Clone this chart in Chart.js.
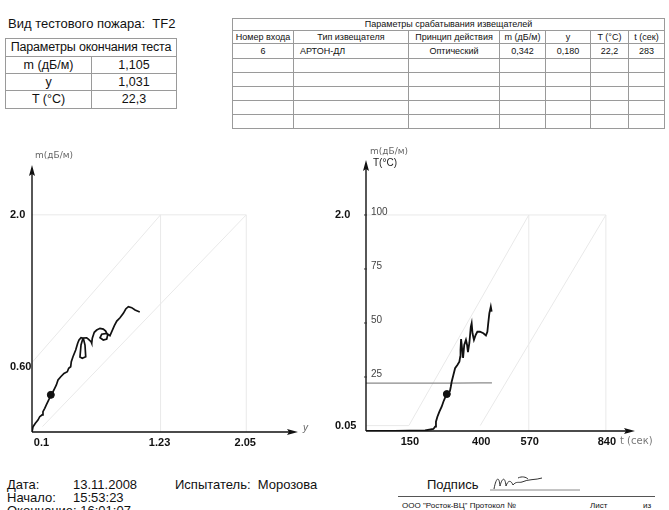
<!DOCTYPE html>
<html>
<head>
<meta charset="utf-8">
<script src="https://cdn.jsdelivr.net/npm/chart.js@4"></script>
<style>
body{margin:0;background:#fff;font-family:"Liberation Sans",Arial,sans-serif;color:#111;}
#page{position:relative;width:669px;height:510px;overflow:hidden;background:#fff;}
.t{position:absolute;white-space:nowrap;line-height:1;}
table{position:absolute;border-collapse:collapse;table-layout:fixed;}
td{border:1px solid #9a9a9a;padding:0;text-align:center;line-height:1;overflow:hidden;white-space:nowrap;}
canvas{position:absolute;}
</style>
</head>
<body>
<div id="page">

<div class="t" style="left:8px;top:17px;font-size:13px">Вид тестового пожара:&nbsp; TF2</div>
<table style="left:5px;top:38px;width:171px;font-size:12.5px">
  <colgroup><col style="width:86px"><col style="width:85px"></colgroup>
  <tr style="height:18px"><td colspan="2" style="letter-spacing:-0.2px">Параметры окончания теста</td></tr>
  <tr style="height:17px"><td>m (дБ/м)</td><td>1,105</td></tr>
  <tr style="height:17px"><td>y</td><td>1,031</td></tr>
  <tr style="height:18px"><td>T (°C)</td><td>22,3</td></tr>
</table>

<table style="left:232px;top:18px;width:432px;font-size:9px">
  <colgroup><col style="width:61px"><col style="width:115px"><col style="width:91px"><col style="width:46px"><col style="width:45px"><col style="width:38px"><col style="width:36px"></colgroup>
  <tr style="height:12px"><td colspan="7">Параметры срабатывания извещателей</td></tr>
  <tr style="height:13px"><td>Номер входа</td><td>Тип извещателя</td><td>Принцип действия</td><td>m (дБ/м)</td><td>y</td><td>T (°C)</td><td>t (сек)</td></tr>
  <tr style="height:15px"><td>6</td><td style="text-align:left;padding-left:6px">АРТОН-ДЛ</td><td>Оптический</td><td>0,342</td><td>0,180</td><td>22,2</td><td>283</td></tr>
  <tr style="height:14px"><td></td><td></td><td></td><td></td><td></td><td></td><td></td></tr>
  <tr style="height:14px"><td></td><td></td><td></td><td></td><td></td><td></td><td></td></tr>
  <tr style="height:14px"><td></td><td></td><td></td><td></td><td></td><td></td><td></td></tr>
  <tr style="height:14px"><td></td><td></td><td></td><td></td><td></td><td></td><td></td></tr>
  <tr style="height:14px"><td></td><td></td><td></td><td></td><td></td><td></td><td></td></tr>
</table>

<canvas id="leftChart" width="330" height="320" style="left:0;top:140px"></canvas>
<canvas id="rightChart" width="339" height="320" style="left:330px;top:140px"></canvas>

<div class="t" style="left:7px;top:478px;font-size:13px">Дата:</div>
<div class="t" style="left:73px;top:478px;font-size:13px">13.11.2008</div>
<div class="t" style="left:175px;top:478px;font-size:13px">Испытатель:&nbsp; Морозова</div>
<div class="t" style="left:7px;top:491px;font-size:13px">Начало:</div>
<div class="t" style="left:73px;top:491px;font-size:13px">15:53:23</div>
<div class="t" style="left:7px;top:504px;font-size:13px">Окончание: 16:01:07</div>

<div class="t" style="left:427px;top:478px;font-size:13px">Подпись</div>
<svg style="position:absolute;left:488px;top:472px" width="100" height="22">
  <path d="M6 17 C8 6,11 3,12 14 C14 6,17 4,18 14 C20 8,23 8,25 13 C28 9,31 11,34 10 C40 7,48 8,54 6 M30 6 C34 4,38 5,40 7" fill="none" stroke="#333" stroke-width="1"/>
  <line x1="2" y1="18" x2="92" y2="18" stroke="#888" stroke-width="1"/>
</svg>
<div style="position:absolute;left:398px;top:496px;width:257px;height:1px;background:#555"></div>
<div class="t" style="left:402px;top:502px;font-size:8px">ООО "Росток-ВЦ" Протокол №</div>
<div class="t" style="left:590px;top:502px;font-size:8px">Лист</div>
<div class="t" style="left:643px;top:502px;font-size:8px">из</div>

</div>
<script>
// ---- left chart: m (дБ/м) against y ----
var leftY = [0.0, 0.010, 0.032, 0.057, 0.074, 0.096, 0.105, 0.122, 0.137, 0.160, 0.180, 0.201, 0.217, 0.233, 0.249, 0.275,
    0.306, 0.338, 0.351, 0.370, 0.376, 0.392, 0.418, 0.437, 0.450, 0.469, 0.491, 0.507, 0.514, 0.481, 0.459, 0.469, 0.488,
    0.523, 0.539, 0.565, 0.571, 0.577, 0.596, 0.619, 0.651, 0.682, 0.705, 0.724, 0.715, 0.682, 0.651, 0.667, 0.715, 0.746,
    0.763, 0.788, 0.811, 0.842, 0.874, 0.897, 0.922, 0.954, 0.986, 1.031];
var leftM = [0.0, 0.049, 0.080, 0.110, 0.141, 0.157, 0.187, 0.218, 0.249, 0.295, 0.342, 0.371, 0.402, 0.433, 0.479, 0.509,
    0.540, 0.555, 0.587, 0.601, 0.647, 0.693, 0.755, 0.817, 0.847, 0.868, 0.863, 0.801, 0.693, 0.679, 0.691, 0.801, 0.866,
    0.868, 0.856, 0.831, 0.817, 0.863, 0.918, 0.939, 0.955, 0.948, 0.930, 0.893, 0.856, 0.847, 0.868, 0.900, 0.909, 0.887,
    0.924, 0.979, 1.022, 1.052, 1.093, 1.133, 1.154, 1.145, 1.123, 1.105];
var leftXTicks = [0.1, 1.23, 2.05];
var leftXLabels = ["0.1", "1.23", "2.05"];
var leftMTicks = [2.0, 0.60];
var leftMLabels = ["2.0", "0.60"];

// ---- right chart: m (дБ/м) and T (°C) against t (сек) ----
var rightTime = [0, 100, 207, 236, 242, 245, 250, 257, 265, 271, 277, 283, 294, 297, 300, 306, 312, 320, 327, 330, 331,
    333, 337, 340, 344, 350, 354, 357, 362, 367, 370, 373, 378, 384, 390, 399, 411, 420, 425, 428, 432, 437, 440];
var rightM = [0, 0, 0.005, 0.019, 0.040, 0.086, 0.132, 0.179, 0.225, 0.271, 0.308, 0.342, 0.370, 0.410, 0.456, 0.519,
    0.581, 0.611, 0.642, 0.688, 0.750, 0.852, 0.750, 0.676, 0.796, 0.843, 0.796, 0.731, 0.815, 0.963, 0.997, 0.905, 0.843,
    0.889, 0.919, 0.919, 0.905, 0.884, 0.919, 0.997, 1.090, 1.151, 1.105];
var tempTime = [0, 100, 200, 300, 400, 441];
var tempC = [22.2, 22.2, 22.2, 22.2, 22.3, 22.3];
var rightXTicks = [150, 400, 570, 840];
var rightXLabels = ["150", "400", "570", "840"];
var rightMTicks = [2.0, 0.05];
var rightMLabels = ["2.0", "0.05"];
var rightTTicks = [100, 75, 50, 25];
var rightTLabels = ["100", "75", "50", "25"];

// detection point (АРТОН-ДЛ)
var detectY = 0.180, detectM = 0.342, detectT = 283;

function pts(xs, ys) {
    return xs.map(function(x, i) { return {x: x, y: ys[i]}; });
}

var GUIDE = "#e9e9e9";
function guide(xs, ys, axis) {
    var d = {data: pts(xs, ys), showLine: true, borderColor: GUIDE, borderWidth: 1, pointRadius: 0};
    if (axis) d.yAxisID = axis;
    return d;
}

// axis lines with arrows, positions come from the chart area
function arrowAxes(chart) {
    var ctx = chart.ctx, a = chart.chartArea;
    ctx.save();
    ctx.strokeStyle = "#111";
    ctx.fillStyle = "#111";
    ctx.lineWidth = 1.4;
    ctx.beginPath();
    ctx.moveTo(a.left, a.bottom);
    ctx.lineTo(a.left, a.top + 6);
    ctx.moveTo(a.left, a.bottom);
    ctx.lineTo(a.right - 6, a.bottom);
    ctx.stroke();
    ctx.beginPath();
    ctx.moveTo(a.left, a.top);
    ctx.lineTo(a.left - 3, a.top + 11);
    ctx.lineTo(a.left, a.top + 9);
    ctx.lineTo(a.left + 3, a.top + 11);
    ctx.closePath();
    ctx.fill();
    ctx.beginPath();
    ctx.moveTo(a.right, a.bottom);
    ctx.lineTo(a.right - 11, a.bottom - 3);
    ctx.lineTo(a.right - 9, a.bottom);
    ctx.lineTo(a.right - 11, a.bottom + 3);
    ctx.closePath();
    ctx.fill();
    ctx.restore();
}

function text(ctx, s, x, y, font, color, align) {
    ctx.font = font;
    ctx.fillStyle = color;
    ctx.textAlign = align || "left";
    ctx.textBaseline = "middle";
    ctx.fillText(s, x, y);
}

var leftLabels = {
    id: "leftLabels",
    afterDraw: function(chart) {
        var ctx = chart.ctx, a = chart.chartArea;
        var xs = chart.scales.x, ys = chart.scales.y;
        arrowAxes(chart);
        ctx.save();
        leftMTicks.forEach(function(v, i) {
            text(ctx, leftMLabels[i], 10, ys.getPixelForValue(v), "bold 11px 'Liberation Sans'", "#111");
        });
        leftXTicks.forEach(function(v, i) {
            text(ctx, leftXLabels[i], xs.getPixelForValue(v) - 1, a.bottom + 11, "bold 11px 'Liberation Sans'", "#111", "center");
        });
        text(ctx, "y", a.right + 5, a.bottom - 4, "italic 10px 'Liberation Sans'", "#666");
        text(ctx, "m(дБ/м)", a.left + 3, a.top - 9, "9px 'DejaVu Sans'", "#666");
        ctx.restore();
    }
};

var rightLabels = {
    id: "rightLabels",
    afterDraw: function(chart) {
        var ctx = chart.ctx, a = chart.chartArea;
        var xs = chart.scales.x, ys = chart.scales.y, ts = chart.scales.yT;
        arrowAxes(chart);
        ctx.save();
        rightMTicks.forEach(function(v, i) {
            text(ctx, rightMLabels[i], 5, ys.getPixelForValue(v), "bold 11px 'Liberation Sans'", "#111");
        });
        ctx.strokeStyle = "#333";
        ctx.lineWidth = 1;
        rightTTicks.forEach(function(v, i) {
            var py = ts.getPixelForValue(v);
            ctx.beginPath();
            ctx.moveTo(a.left - 2, py);
            ctx.lineTo(a.left + 1, py);
            ctx.stroke();
            text(ctx, rightTLabels[i], a.left + 5, py - 3, "10px 'Liberation Sans'", "#444");
        });
        rightXTicks.forEach(function(v, i) {
            text(ctx, rightXLabels[i], xs.getPixelForValue(v) + 1, a.bottom + 11, "bold 11px 'Liberation Sans'", "#111", "center");
        });
        text(ctx, "t (сек)", a.right - 15, a.bottom + 10, "10px 'DejaVu Sans'", "#777");
        text(ctx, "m(дБ/м)", a.left + 4, a.top - 8, "9px 'DejaVu Sans'", "#666");
        text(ctx, "T(°C)", a.left + 7, a.top + 3, "10px 'Liberation Sans'", "#222");
        ctx.restore();
    }
};

var common = {
    responsive: false,
    animation: false,
    events: [],
    plugins: {legend: {display: false}, tooltip: {enabled: false}},
    elements: {line: {tension: 0}}
};

new Chart(document.getElementById("leftChart").getContext("2d"), {
    type: "scatter",
    data: {
        datasets: [
            {data: [{x: detectY, y: detectM}], pointRadius: 3.5, pointBackgroundColor: "#111", pointBorderColor: "#111", showLine: false},
            {data: pts(leftY, leftM), showLine: true, borderColor: "#111", borderWidth: 1.7, pointRadius: 0},
            guide([0, 1.23], [0.64, 2.0]),
            guide([0.1, 2.05], [0.05, 2.0]),
            guide([0, 2.05], [2.0, 2.0]),
            guide([1.23, 1.23], [0, 2.0]),
            guide([2.05, 2.05], [0, 2.0])
        ]
    },
    options: Object.assign({}, common, {
        layout: {padding: {left: 32, right: 32, top: 25, bottom: 28}},
        scales: {
            x: {type: "linear", display: false, min: 0, max: 2.545},
            y: {type: "linear", display: false, min: 0, max: 2.459}
        }
    }),
    plugins: [leftLabels]
});

new Chart(document.getElementById("rightChart").getContext("2d"), {
    type: "scatter",
    data: {
        datasets: [
            {data: [{x: detectT, y: detectM}], pointRadius: 3.5, pointBackgroundColor: "#111", pointBorderColor: "#111", showLine: false},
            {data: pts(rightTime, rightM), showLine: true, borderColor: "#111", borderWidth: 1.8, pointRadius: 0},
            {data: pts(tempTime, tempC), yAxisID: "yT", showLine: true, borderColor: "#8a8a8a", borderWidth: 1.2, pointRadius: 0},
            guide([0, 150], [0.05, 0.05]),
            guide([150, 570], [0.05, 2.0]),
            guide([400, 840], [0.05, 2.0]),
            guide([0, 840], [2.0, 2.0]),
            guide([570, 570], [0, 2.0]),
            guide([840, 840], [0, 2.0])
        ]
    },
    options: Object.assign({}, common, {
        layout: {padding: {left: 36, right: 34, top: 20, bottom: 29}},
        scales: {
            x: {type: "linear", display: false, min: 0, max: 942},
            y: {type: "linear", display: false, min: 0, max: 2.509},
            yT: {type: "linear", display: false, min: 0, max: 125.45}
        }
    }),
    plugins: [rightLabels]
});
</script>
</body>
</html>
